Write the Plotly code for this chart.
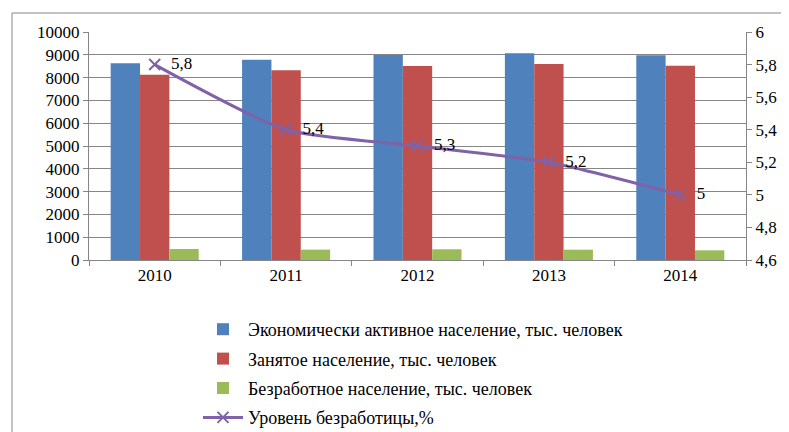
import plotly.graph_objects as go

years = ["2010", "2011", "2012", "2013", "2014"]
active = [8630, 8785, 8990, 9066, 8978]
employed = [8127, 8320, 8510, 8596, 8522]
unemployed = [482, 455, 470, 452, 425]
rate = [5.8, 5.4, 5.3, 5.2, 5.0]
rate_labels = ["5,8", "5,4", "5,3", "5,2", "5"]

names = [
    "Экономически активное население, тыс. человек",
    "Занятое население, тыс. человек",
    "Безработное население, тыс. человек",
    "Уровень безработицы,%",
]

FONT = "Liberation Serif"
GRID = "#868686"
FS = 17
LFS = 18

# page body has an 8px margin; work in figure coordinates (screen - 8)
FW, FH = 781, 424
W, H = 657, 228
L, T = 81, 24
def px(x):
    return (x - 8 - L) / W
def py(y):
    return (T + H - (y - 8)) / H

fig = go.Figure()
fig.add_trace(go.Bar(x=years, y=active, name=names[0], legendgroup="a",
                     marker=dict(color="#4F81BD", line=dict(width=0))))
fig.add_trace(go.Bar(x=years, y=employed, name=names[1], legendgroup="b",
                     marker=dict(color="#C0504D", line=dict(width=0))))
fig.add_trace(go.Bar(x=years, y=unemployed, name=names[2], legendgroup="c",
                     marker=dict(color="#9BBB59", line=dict(width=0))))
fig.add_trace(go.Scatter(
    x=years, y=rate, name=names[3], yaxis="y2", legendgroup="d",
    mode="lines+markers+text", text=["  " + t for t in rate_labels], textposition="middle right",
    textfont=dict(family=FONT, size=FS, color="#000000"),
    line=dict(color="#7F62A8", width=3, shape="spline", smoothing=0.6),
    marker=dict(symbol="x-thin", size=11, line=dict(color="#7F62A8", width=2), color="#7F62A8"),
))

fig.update_layout(
    width=FW, height=FH,
    margin=dict(l=L, r=FW - L - W, t=T, b=FH - T - H, autoexpand=False),
    paper_bgcolor="white", plot_bgcolor="white",
    font=dict(family=FONT, size=FS, color="#000000"),
    barmode="group", bargap=0.33, bargroupgap=0,
    showlegend=True,
    legend=dict(
        x=px(198), y=py(311), xanchor="left", yanchor="top",
        orientation="v", traceorder="grouped",
        font=dict(family=FONT, size=LFS), tracegroupgap=3,
        itemwidth=40, bgcolor="rgba(0,0,0,0)",
    ),
    xaxis=dict(
        type="category", showgrid=False, showline=True, linecolor=GRID, linewidth=1,
        ticks="outside", tickson="boundaries", ticklen=5, tickcolor=GRID,
        tickfont=dict(family=FONT, size=FS),
    ),
    yaxis=dict(
        range=[0, 10000], dtick=1000, showgrid=True, gridcolor=GRID, gridwidth=1,
        showline=True, linecolor=GRID, linewidth=1, ticks="outside", ticklen=5, tickcolor=GRID,
        tickformat="d", zeroline=False, tickfont=dict(family=FONT, size=FS),
    ),
    yaxis2=dict(
        range=[4.6, 6.0], overlaying="y", side="right", showgrid=False,
        showline=True, linecolor=GRID, linewidth=1, ticks="outside", ticklen=5, tickcolor=GRID,
        tickvals=[4.6, 4.8, 5.0, 5.2, 5.4, 5.6, 5.8, 6.0],
        ticktext=["4,6", "4,8", "5", "5,2", "5,4", "5,6", "5,8", "6"],
        zeroline=False, tickfont=dict(family=FONT, size=FS),
    ),
    shapes=[dict(
        type="rect", xref="paper", yref="paper",
        x0=px(12), y0=py(13), x1=px(810), y1=py(460),
        line=dict(color="#868686", width=1), layer="below",
    )],
)

fig.write_html("out.html")
